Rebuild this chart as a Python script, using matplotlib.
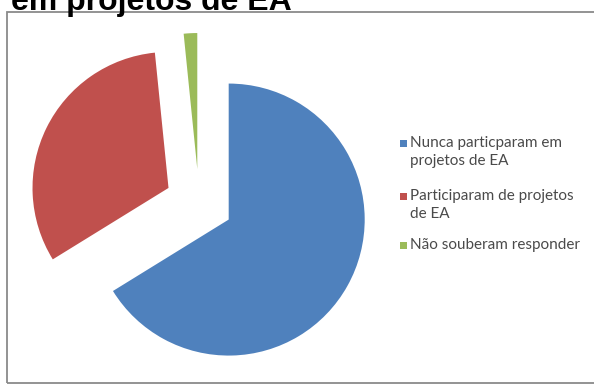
import matplotlib.pyplot as plt
from matplotlib.patches import Rectangle

# Participação em projetos de EA (percentual de respondentes)
labels = ['Nunca particparam em\nprojetos de EA',
          'Participaram de projetos\nde EA',
          'Não souberam responder']
values = [66.2, 32.2, 1.6]
colors = ['#4F81BD', '#C0504D', '#9BBB59']
explode = [0.25, 0.25, 0.25]

W, H = 594, 387
fig = plt.figure(figsize=(W / 100, H / 100), dpi=100)
fig.patch.set_facecolor('white')

# chart frame (top edge just under the cut title, right side runs off the page)
fig.patches.append(Rectangle((6.5 / W, 4 / H), 1.2, (383 - 12) / H,
                             transform=fig.transFigure, fill=False,
                             edgecolor='#8a8a8a', linewidth=1.3))

# title, only its lower half is inside the page
fig.text(11 / W, 1 - 10 / H, 'em projetos de EA', fontsize=23,
         fontweight='bold', family='Liberation Sans', color='black',
         ha='left', va='baseline')

# pie axes: one data unit = pie radius (136 px), centre at (199, 203) px
r_px = 136.0
cx, cy = 199.0, 203.0
ax = fig.add_axes([0, 0, 1, 1])
wedges, _ = ax.pie(values, colors=colors, explode=explode, startangle=90,
                   counterclock=False, radius=1.0,
                   wedgeprops=dict(linewidth=0))
# pie() resets the limits, so set them afterwards
ax.set_xlim(-cx / r_px, (W - cx) / r_px)
ax.set_ylim(-(H - cy) / r_px, cy / r_px)
ax.axis('off')

# legend drawn by hand so the marker sits on the first line of each label
leg_x = 403
leg_rows = [143, 196, 245]
line_h = 18.5
for lab, col, y0 in zip(labels, colors, leg_rows):
    fig.patches.append(Rectangle(((leg_x - 3.5) / W, 1 - (y0 + 3.5) / H),
                                 7 / W, 7 / H, transform=fig.transFigure,
                                 facecolor=col, edgecolor='none'))
    for k, line in enumerate(lab.split('\n')):
        fig.text((leg_x + 7) / W, 1 - (y0 + k * line_h) / H, line,
                 fontsize=11, family='Lato', color='#4a4a4a',
                 ha='left', va='center')

fig.savefig('out.png', dpi=100)
